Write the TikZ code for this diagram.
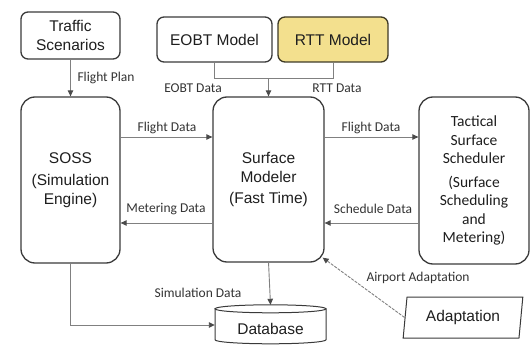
\documentclass[tikz,border=0pt]{standalone}
\usepackage{fontspec}
\setmainfont{Liberation Sans}
\newfontfamily\calfont{Carlito}
\usetikzlibrary{arrows.meta,shapes.geometric,calc}
\definecolor{boxc}{HTML}{3A3A3A}
\definecolor{linec}{HTML}{808080}
\definecolor{tipc}{HTML}{4A4A4A}
\definecolor{textc}{HTML}{1E1E1E}
\definecolor{labc}{HTML}{333333}
\definecolor{rttfill}{HTML}{F3E08E}
\definecolor{rttdraw}{HTML}{3E3A26}
\begin{document}
\begin{tikzpicture}[x=1pt,y=-1pt,
  box/.style={draw=boxc, line width=1.3pt, rounded corners=7pt, align=center,
    font=\fontsize{15.5}{18.5}\selectfont, text=textc, inner sep=0pt},
  bigbox/.style={box, rounded corners=14pt},
  plain/.style={align=center, font=\fontsize{15.5}{18.5}\selectfont, text=textc, inner sep=0pt},
  conn/.style={draw=linec, line width=0.9pt, -{Triangle[length=6pt,width=5.5pt,color=tipc,fill=tipc]}},
  thinline/.style={draw=linec, line width=0.9pt},
  lab/.style={font=\calfont\fontsize{13.5}{15}\selectfont, text=labc, inner sep=0pt},
]
\useasboundingbox (0,0) rectangle (532,347);

% boxes
\node[box, minimum width=99pt, minimum height=47pt] (traffic) at (70.5,35.5) {Traffic\\Scenarios};
\node[box, minimum width=115pt, minimum height=45pt] (eobt) at (214.5,39.5) {EOBT Model};
\node[box, fill=rttfill, draw=rttdraw, minimum width=110pt, minimum height=45pt] (rtt) at (333,39.5) {RTT Model};
\node[bigbox, minimum width=99pt, minimum height=166pt] (soss) at (70.5,180) {SOSS\\[4pt](Simulation\\Engine)};
\node[bigbox, minimum width=111pt, minimum height=165pt] (sm) at (268.5,179.5) {Surface\\Modeler\\[3pt](Fast Time)};
\node[bigbox, font=\calfont\fontsize{15.5}{18.5}\selectfont, minimum width=110pt, minimum height=167pt] (tss) at (474,180.5)
  {Tactical\\Surface\\Scheduler\\[5pt](Surface\\Scheduling\\and\\Metering)};

% database
\node[plain, minimum width=111pt, minimum height=31pt] (db) at (270.5,328.5) {Database};
\begin{scope}[shift={(db.north)}, y=1pt]
  \draw[draw=boxc, line width=1pt] (0,4) ellipse [x radius=55.5, y radius=4];
  \draw[draw=boxc, line width=1pt] (-55.5,4) -- (-55.5,-27) arc[start angle=180, end angle=360, x radius=55.5, y radius=4] -- (55.5,4);
\end{scope}

% adaptation
\node[trapezium, trapezium left angle=80, trapezium right angle=100, trapezium stretches=true,
  draw=boxc, line width=1pt, minimum width=120pt, minimum height=41pt, plain] (adapt) at (463,317.5) {Adaptation};

% connectors
\draw[conn] (traffic.south) -- (soss.north);
\node[lab] at (106,78) {Flight Plan};

\coordinate (j) at ($(sm.north)+(0,-18)$);
\draw[thinline] (eobt.south) |- (j);
\draw[thinline] (rtt.south) |- (j);
\draw[conn] (j) -- (sm.north);
\node[lab] at (193,88.5) {EOBT Data};
\node[lab] at (337,88.5) {RTT Data};

\draw[conn] (soss.east |- 0,137) -- (sm.west |- 0,137);
\node[lab] at (167,128) {Flight Data};
\draw[conn] (sm.east |- 0,137) -- (tss.west |- 0,137);
\node[lab] at (371,128) {Flight Data};

\draw[conn] (sm.west |- 0,223) -- (soss.east |- 0,223);
\node[lab] at (166,209) {Metering Data};
\draw[conn] (tss.west |- 0,223) -- (sm.east |- 0,223);
\node[lab] at (373,209) {Schedule Data};

\coordinate (dbtop) at ($(db.north)+(0,-8)$);
\draw[conn] (sm.south |- dbtop) ++(0,-43) -- (dbtop);
\node[lab] at (198,293) {Simulation Data};

\draw[conn] (soss.south) |- ($(db.west)+(0,-3.5)$);

\coordinate (smcorner) at ($(sm.south east)+(-2,-5)$);
\draw[conn, dash pattern=on 3pt off 1.2pt] (adapt.west) -- (smcorner);
\node[lab] at (418,278) {Airport Adaptation};
\end{tikzpicture}
\end{document}
